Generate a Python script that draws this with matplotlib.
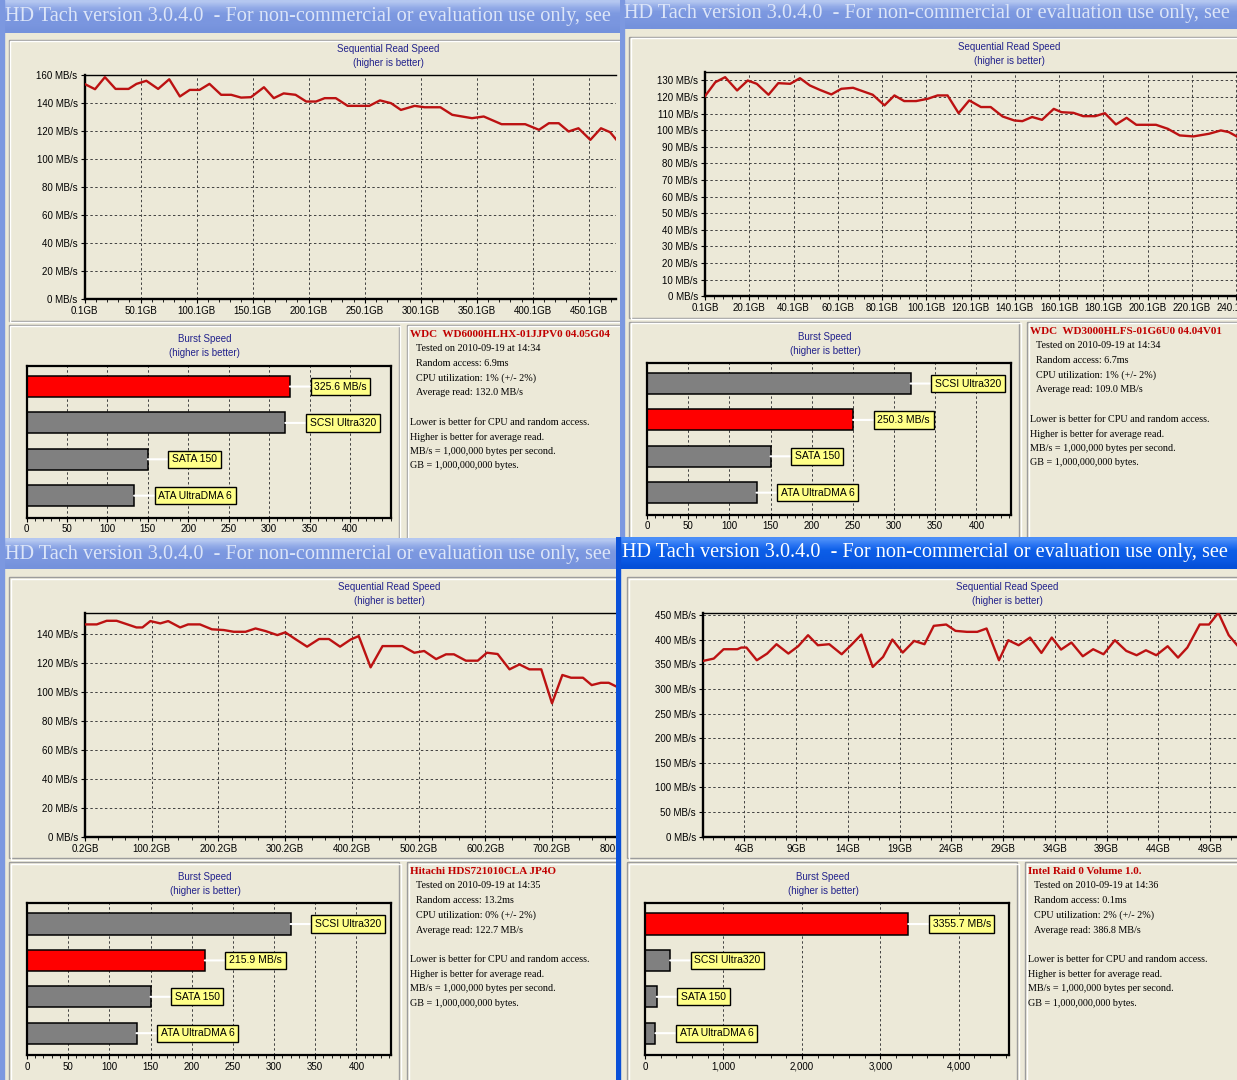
import numpy as np
import matplotlib
matplotlib.use('Agg')
import matplotlib.pyplot as plt
from matplotlib.patches import Rectangle
from matplotlib.colors import to_rgb
from matplotlib.ticker import AutoMinorLocator

W, H = 1237, 1080
BEIGE = '#ECE9D8'

# ---- values ----
title_text = 'HD Tach version 3.0.4.0  - For non-commercial or evaluation use only, see'

ref_names = ['SCSI Ultra320', 'SATA 150', 'ATA UltraDMA 6']
ref_speeds = [320, 150, 133]

notes = ['Lower is better for CPU and random access.',
         'Higher is better for average read.',
         'MB/s = 1,000,000 bytes per second.',
         'GB = 1,000,000,000 bytes.']

# top left: WDC WD6000HLHX
wd6_gb = [0, 9.5, 18.3, 27.8, 39.4, 46.5, 55.3, 65.8, 75.7, 85.2,
          94, 102.8, 111.6, 122, 131, 139.8, 148.6, 160.2, 169, 177.8,
          188.4, 197.9, 206.7, 214.4, 224.3, 234.9, 254.2, 263.7, 273.6, 282.4,
          294.7, 303.5, 317.6, 328.2, 345.8, 356.3, 372.2, 393.3, 405.6, 414.4,
          423.2, 432, 440.8, 451.4, 460.9, 469, 476]
wd6_mbs = [153.8, 150, 158.6, 150.2, 150.2, 153.8, 156, 150.2, 157.1, 144.8,
           149.5, 149.5, 153.8, 146, 146, 144, 144.3, 151.4, 143.6, 147,
           146, 141.2, 141.2, 143.6, 143.6, 138.1, 138.1, 142, 140, 135.2,
           138.1, 137.1, 137.1, 131.7, 129.3, 130.5, 125, 125, 121, 125.7,
           125.7, 119.8, 122.1, 113.8, 122.1, 119.3, 112.6]
wd6_burst = 325.6
wd6_xticks = [0.1, 50.1, 100.1, 150.1, 200.1, 250.1, 300.1, 350.1, 400.1, 450.1]
wd6_yticks = [0, 20, 40, 60, 80, 100, 120, 140, 160]
wd6_info = ['WDC  WD6000HLHX-01JJPV0 04.05G04',
            'Tested on 2010-09-19 at 14:34',
            'Random access: 6.9ms',
            'CPU utilization: 1% (+/- 2%)',
            'Average read: 132.0 MB/s']

# top right: WDC WD3000HLFS
wd3_gb = [0, 4.8, 9.2, 14.6, 19.4, 23.5, 28.8, 33.2, 38.6, 43,
          47.5, 51.9, 57.2, 61.7, 67, 75.9, 81.2, 85.7, 90.1, 95.5,
          100.8, 105.2, 109.7, 114.7, 119.5, 124.8, 129.2, 134.6, 139.9, 143.5,
          147.9, 152.4, 157.7, 161.2, 166.6, 171, 176.4, 180.8, 185.8, 190.6,
          195, 203.9, 209.2, 214.6, 220.8, 227.9, 233.2, 236.8, 240.9]
wd3_mbs = [120.4, 129, 132, 124, 130, 128, 121.4, 128.4, 128, 131.4,
           127, 124.4, 121.6, 125, 125.6, 121.4, 115, 121, 117.6, 117.6,
           119, 121, 121, 110.3, 118, 114, 114, 108.3, 105.9, 105.5,
           108, 106.3, 112.9, 110.9, 110.5, 108.5, 108.5, 110.3, 103.5, 107.5,
           103.3, 103.3, 100.9, 96.9, 96.3, 97.9, 99.9, 98.9, 95.9]
wd3_burst = 250.3
wd3_xticks = [0.1, 20.1, 40.1, 60.1, 80.1, 100.1, 120.1, 140.1, 160.1, 180.1,
              200.1, 220.1, 240.1]
wd3_yticks = [0, 10, 20, 30, 40, 50, 60, 70, 80, 90, 100, 110, 120, 130]
wd3_info = ['WDC  WD3000HLFS-01G6U0 04.04V01',
            'Tested on 2010-09-19 at 14:34',
            'Random access: 6.7ms',
            'CPU utilization: 1% (+/- 2%)',
            'Average read: 109.0 MB/s']

# bottom left: Hitachi HDS721010CLA
hit_gb = [0, 17.8, 32.7, 47.6, 62.5, 77.3, 86.3, 98.2, 113, 124.9,
          142.8, 154.7, 172.5, 190.4, 208.2, 223.1, 240.9, 255.8, 270.7, 288.5,
          300.4, 315.3, 333.1, 351, 365.8, 382.5, 398.6, 410.5, 428.3, 446.2,
          475.9, 493.8, 508.6, 526.5, 541.3, 553.2, 571.1, 588.9, 602.6, 618.7,
          636.5, 651.4, 666.3, 684.1, 700.2, 715.7, 728.7, 746.6, 759.7, 773.4,
          785.2, 797.1, 805]
hit_mbs = [146.9, 146.9, 149.4, 149.4, 147.1, 144.8, 144.8, 149.2, 147.6, 149.2,
           144.8, 146.9, 146.9, 143.5, 143, 141.8, 141.8, 144.1, 142.3, 139.5,
           141.4, 136.8, 131.5, 136.8, 136.8, 131.5, 136.5, 138.8, 117.2, 131.9,
           131.9, 127.3, 128.5, 122.9, 126.2, 126.2, 121.8, 121.8, 127.3, 126.4,
           115.8, 119.2, 115.8, 115.8, 92.3, 111.9, 110, 110, 104.9, 106.5,
           106.5, 103.8, 102]
hit_burst = 215.9
hit_xticks = [0.2, 100.2, 200.2, 300.2, 400.2, 500.2, 600.2, 700.2, 800.2]
hit_yticks = [0, 20, 40, 60, 80, 100, 120, 140]
hit_info = ['Hitachi HDS721010CLA JP4O',
            'Tested on 2010-09-19 at 14:35',
            'Random access: 13.2ms',
            'CPU utilization: 0% (+/- 2%)',
            'Average read: 122.7 MB/s']

# bottom right: Intel RAID 0 volume
raid_gb = [0, 1.04, 1.99, 3.32, 3.7, 4.2, 5.2, 6.2, 7.1, 8.25,
           9.2, 10.15, 11.1, 12.2, 13.4, 14.3, 15.3, 16.4, 17.4, 18.3,
           19.3, 20.4, 21.4, 22.3, 23.5, 24.4, 25.5, 26.5, 27.4, 28.6,
           29.5, 30.5, 31.6, 32.7, 33.7, 34.6, 35.6, 36.7, 37.7, 38.7,
           39.8, 40.9, 41.9, 42.8, 43.8, 44.9, 45.9, 46.8, 48, 48.9,
           49.8, 50.8, 51.7]
raid_mbs = [357, 361.8, 380.8, 380.8, 384.2, 384.2, 358.4, 372, 391, 372,
            386.9, 409.3, 388.9, 391, 370.6, 388.9, 410.6, 344.8, 365.2, 400.5,
            374, 397.7, 391, 428.3, 431, 418.1, 416.1, 416.1, 422.9, 358.4,
            399.1, 388.9, 404.5, 373.3, 404.5, 380.1, 394.4, 366.5, 380.8, 370.6,
            399.1, 377.4, 368.6, 378.7, 368.6, 386.9, 363.8, 384.2, 431, 431,
            454.8, 409.3, 386.9]
raid_burst = 3355.7
raid_xticks = [4, 9, 14, 19, 24, 29, 34, 39, 44, 49]
raid_yticks = [0, 50, 100, 150, 200, 250, 300, 350, 400, 450]
raid_info = ['Intel Raid 0 Volume 1.0.',
             'Tested on 2010-09-19 at 14:36',
             'Random access: 0.1ms',
             'CPU utilization: 2% (+/- 2%)',
             'Average read: 386.8 MB/s']

burst_ticks = [0, 50, 100, 150, 200, 250, 300, 350, 400]
raid_burst_ticks = [0, 1000, 2000, 3000, 4000]

SANS = ['Liberation Sans', 'DejaVu Sans']
SERIF = ['Liberation Serif', 'DejaVu Serif']
NAVY = '#22228C'

fig = plt.figure(figsize=(W / 100, H / 100), dpi=100)
fig.patch.set_facecolor(BEIGE)


def px_axes(x0, y0, x1, y1):
    # pixel box (top-left origin) -> figure axes
    return fig.add_axes([x0 / W, 1 - y1 / H, (x1 - x0) / W, (y1 - y0) / H])


def gradient(cols):
    return np.array([to_rgb(c) for c in cols]).reshape(len(cols), 1, 3)


INACTIVE = gradient(['#B4C7F0', '#94ACE8', '#7E9AE1', '#7A96DF', '#7A96DF', '#7592DC'])
ACTIVE = gradient(['#4A8EF8', '#2A74F2', '#0D5FE8', '#0A5AE4', '#0A58E2', '#0550D8'])


def window(x0, y0, x1, y1, bar_h, active, tx, ty):
    ax = px_axes(x0, y0, x1, y1)
    ax.set_axis_off()
    ax.add_patch(Rectangle((x0, y0), x1 - x0, y1 - y0, color=BEIGE, zorder=0))
    ax.imshow(ACTIVE if active else INACTIVE, extent=(x0, x1, y0 + bar_h, y0),
              aspect='auto', interpolation='bilinear', zorder=1)
    ax.set_xlim(x0, x1)
    ax.set_ylim(y1, y0)
    ax.text(tx, ty, title_text, family=SERIF, fontsize=14.6,
            color='white' if active else '#DCE5F8', ha='left', va='center',
            clip_on=True, zorder=3)
    frame = '#0A50D8' if active else '#7C98E0'
    ax.add_patch(Rectangle((x0, y0), 4, y1 - y0, color=frame, zorder=2))
    return ax


def panel(ax, x0, y0, x1, y1):
    ax.add_patch(Rectangle((x0, y0), x1 - x0, y1 - y0, fill=False, ec='#9C9C9C', lw=1, zorder=2))
    ax.add_patch(Rectangle((x0 + 1.5, y0 + 1.5), x1 - x0, y1 - y0, fill=False, ec='white', lw=1, zorder=2))


def line_chart(x0, y0, x1, y1, gb, mbs, xlim, ylim, xticks, xlabels, yticks):
    ax = px_axes(x0, y0, x1, y1)
    ax.set_facecolor(BEIGE)
    ax.plot(gb, mbs, color='#BC1212', lw=1.7, zorder=3)
    ax.set_xlim(*xlim)
    ax.set_ylim(*ylim)
    ax.set_xticks(xticks, xlabels)
    ax.set_yticks(yticks, [f'{v} MB/s' for v in yticks])
    ax.xaxis.set_minor_locator(AutoMinorLocator(5))
    ax.grid(True, color='#404040', ls=(0, (2.5, 2.5)), lw=0.7)
    ax.set_axisbelow(True)
    ax.spines['left'].set_linewidth(1.7)
    ax.spines['bottom'].set_linewidth(1.7)
    ax.spines['top'].set_linewidth(1.0)
    ax.spines['right'].set_visible(False)
    ax.tick_params(labelsize=7, length=3, width=0.8, pad=2)
    ax.tick_params(which='minor', length=2, width=0.6)
    for lab in ax.get_xticklabels() + ax.get_yticklabels():
        lab.set_family(SANS)
    return ax


def burst_chart(x0, y0, x1, y1, value, xmax, xticks, xlabels):
    ax = px_axes(x0, y0, x1, y1)
    ax.set_facecolor(BEIGE)
    names = ref_names + [f'{value:.1f} MB/s']
    speeds = ref_speeds + [value]
    colors = ['#808080'] * 3 + ['#FF0000']
    order = sorted(range(4), key=lambda i: -speeds[i])
    for pos, i in enumerate(order):
        ax.barh(pos, speeds[i], height=0.58, color=colors[i], edgecolor='black', lw=1.1, zorder=2)
        ax.annotate(names[i], xy=(speeds[i], pos), xytext=(17.5, 0), textcoords='offset points',
                    ha='left', va='center', fontsize=7.5, family=SANS,
                    bbox=dict(boxstyle='square,pad=0.35', fc='#FFFF88', ec='black', lw=1),
                    arrowprops=dict(arrowstyle='-', color='white', lw=1.5, shrinkA=0, shrinkB=0),
                    zorder=3)
    ax.set_xlim(0, xmax)
    ax.set_ylim(3.6, -0.57)
    ax.set_yticks([])
    ax.set_xticks(xticks, xlabels)
    ax.xaxis.set_minor_locator(AutoMinorLocator(5))
    ax.grid(axis='x', color='#404040', ls=(0, (2.5, 2.5)), lw=0.7)
    ax.set_axisbelow(True)
    for s in ax.spines.values():
        s.set_linewidth(1.6)
    ax.tick_params(labelsize=7, length=3, width=0.8, pad=2)
    ax.tick_params(which='minor', length=2, width=0.6)
    for lab in ax.get_xticklabels():
        lab.set_family(SANS)
    return ax


def quadrant(win, bar_h, active, tpos, cx, cy, line_right, gb, mbs, xlim, ylim,
             xticks, xlabels, yticks, burst, bmax, bticks, blabels, info):
    wx0, wy0, wx1, wy1 = win
    wax = window(wx0, wy0, wx1, wy1, bar_h, active, *tpos)
    panel(wax, cx + 9, cy + 37, wx1 + 5, cy + 318)
    panel(wax, cx + 9, cy + 322, cx + 399, wy1 + 5)
    panel(wax, cx + 407, cy + 322, wx1 + 5, wy1 + 5)
    wax.text(cx + 389, cy + 47, 'Sequential Read Speed', family=SANS, fontsize=7, color=NAVY,
             ha='center', va='center')
    wax.text(cx + 389, cy + 61, '(higher is better)', family=SANS, fontsize=7, color=NAVY,
             ha='center', va='center')
    wax.text(cx + 205, cy + 337, 'Burst Speed', family=SANS, fontsize=7, color=NAVY,
             ha='center', va='center')
    wax.text(cx + 205, cy + 351, '(higher is better)', family=SANS, fontsize=7, color=NAVY,
             ha='center', va='center')
    wax.text(cx + 410, cy + 332, info[0], family=SERIF, fontsize=8, weight='bold',
             color='#C00000', ha='left', va='center', clip_on=True)
    for k, s in enumerate(info[1:]):
        wax.text(cx + 416, cy + 346 + 14.7 * k, s, family=SERIF, fontsize=7.3,
                 ha='left', va='center', clip_on=True)
    for k, s in enumerate(notes):
        wax.text(cx + 410, cy + 420 + 14.4 * k, s, family=SERIF, fontsize=7.3,
                 ha='left', va='center', clip_on=True)
    line_chart(cx + 85, cy + 72.7, line_right, cy + 296.7, gb, mbs, xlim, ylim,
               xticks, xlabels, yticks)
    burst_chart(cx + 27, cy + 363.3, cx + 391, cy + 515, burst, bmax, bticks, blabels)


gb_fmt = lambda ticks: [f'{t:.1f}GB' for t in ticks]

quadrant((0, 0, 620, 538), 33.5, False, (5, 16.5), -0.5, 2.5, 616,
         wd6_gb, wd6_mbs, (0.1, 474.3), (0, 160), wd6_xticks, gb_fmt(wd6_xticks), wd6_yticks,
         wd6_burst, 450, burst_ticks, [str(t) for t in burst_ticks], wd6_info)
quadrant((620, 0, 1237, 538), 29.5, False, (624, 13.5), 620, -0.5, 1237,
         wd3_gb, wd3_mbs, (0.1, 240.5), (0, 135), wd3_xticks, gb_fmt(wd3_xticks), wd3_yticks,
         wd3_burst, 442, burst_ticks, [str(t) for t in burst_ticks], wd3_info)
quadrant((0, 538, 618, 1080), 31, False, (5, 554), 0, 540, 622,
         hit_gb, hit_mbs, (0.2, 805.1), (0, 155), hit_xticks, gb_fmt(hit_xticks), hit_yticks,
         hit_burst, 442, burst_ticks, [str(t) for t in burst_ticks], hit_info)
quadrant((616, 537, 1237, 1080), 32, True, (622, 553), 618, 540, 1237,
         raid_gb, raid_mbs, (0, 51.6), (0, 455), raid_xticks, [f'{t}GB' for t in raid_xticks],
         raid_yticks, raid_burst, 4640, raid_burst_ticks,
         [f'{t:,}' for t in raid_burst_ticks], raid_info)

fig.savefig('out.png', dpi=100, facecolor=BEIGE)
